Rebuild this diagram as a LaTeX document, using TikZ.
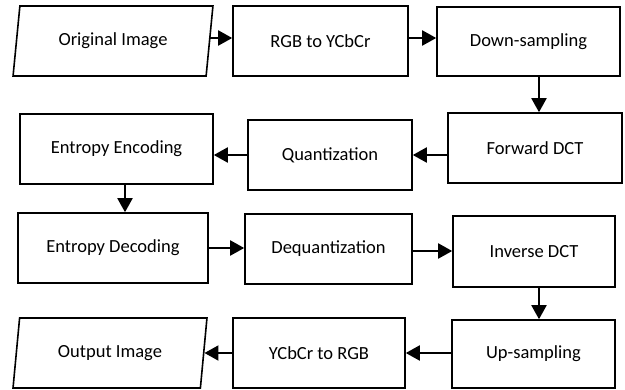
\documentclass[tikz,border=0pt]{standalone}
\usepackage{fontspec}
\setmainfont{Carlito}
\usetikzlibrary{shapes.geometric,arrows.meta}
\begin{document}
\begin{tikzpicture}[x=1pt,y=-1pt,
  every node/.style={font=\fontsize{18.5}{22}\selectfont, inner sep=0pt},
  stepbox/.style={draw, line width=1.6pt, rectangle, minimum height=70pt},
  iobox/.style={draw, line width=1.6pt, trapezium, trapezium left angle=76,
    trapezium right angle=104, trapezium stretches=true, minimum height=70pt},
  flow/.style={line width=2pt, -{Triangle[length=14pt,width=15pt]}}]
\useasboundingbox (0,0) rectangle (625,389);
% first row: input and colour conversion
\node[iobox, minimum width=200pt] (orig) at (113,41) {Original Image};
\node[stepbox, minimum width=175pt] (rgb) at (320.5,41) {RGB to YCbCr};
\node[stepbox, minimum width=183pt, minimum height=69pt] (down) at (528.5,41.5) {Down-sampling};
% second row: transform, quantise, encode
\node[stepbox, minimum width=174pt] (fdct) at (535,148) {Forward DCT};
\node[stepbox, minimum width=164pt] (quant) at (330,155) {Quantization};
\node[stepbox, minimum width=193pt] (enc) at (116.5,149) {Entropy Encoding};
% third row: decode, dequantise, inverse transform
\node[stepbox, minimum width=190pt] (dec) at (113,248) {Entropy Decoding};
\node[stepbox, minimum width=167pt] (deq) at (328.5,249) {Dequantization};
\node[stepbox, minimum width=162pt, minimum height=71pt] (idct) at (534,251.5) {Inverse DCT};
% fourth row: upsample, convert back, output
\node[stepbox, minimum width=163pt, minimum height=68pt] (up) at (533.5,354) {Up-sampling};
\node[stepbox, minimum width=172pt] (ycc) at (319,353) {YCbCr to RGB};
\node[iobox, minimum width=194pt] (out) at (110,353) {Output Image};
% connectors
\draw[flow] ([yshift=3pt]orig.east) -- ([yshift=3pt]orig.east -| rgb.west);
\draw[flow] ([yshift=3pt]rgb.east) -- ([yshift=3pt]rgb.east -| down.west);
\draw[flow] ([xshift=10.5pt]down.south) -- ([xshift=10.5pt]down.south |- fdct.north);
\draw[flow] (fdct.west |- quant.east) -- (quant.east);
\draw[flow] (quant.west) -- (quant.west -| enc.east);
\draw[flow] ([xshift=8.5pt]enc.south) -- ([xshift=8.5pt]enc.south |- dec.north);
\draw[flow] (dec.east) -- (dec.east -| deq.west);
\draw[flow] ([yshift=-2pt]deq.east) -- ([yshift=-2pt]deq.east -| idct.west);
\draw[flow] ([xshift=5pt]idct.south) -- ([xshift=5pt]idct.south |- up.north);
\draw[flow] (up.west |- ycc.east) -- (ycc.east);
\draw[flow] (ycc.west) -- (ycc.west -| out.east);
\end{tikzpicture}
\end{document}
